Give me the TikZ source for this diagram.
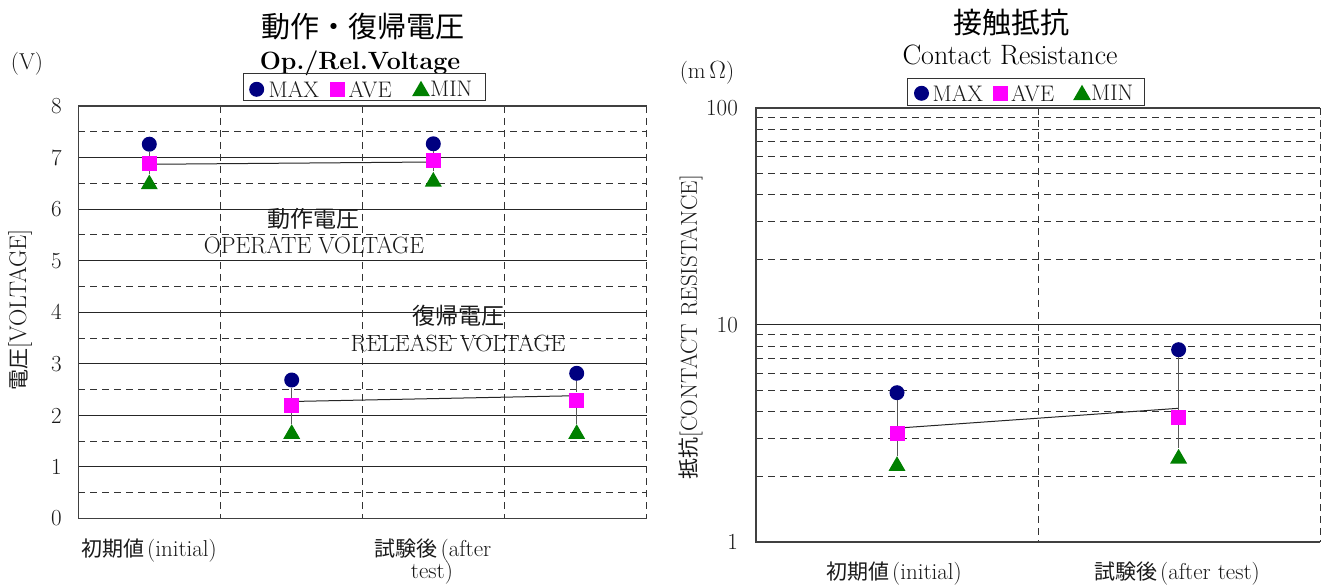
\documentclass[tikz,border=0pt]{standalone}
\usepackage{fontspec}
\newfontfamily\jp{Noto Sans CJK JP}
\usetikzlibrary{shapes.geometric}
\definecolor{mxc}{RGB}{0,0,128}
\definecolor{avc}{RGB}{255,0,255}
\definecolor{mnc}{RGB}{0,128,0}
\tikzset{
  mxmark/.style={circle, fill=mxc, minimum size=15pt, inner sep=0pt},
  avmark/.style={rectangle, fill=avc, minimum size=15pt, inner sep=0pt},
  mnmark/.style={regular polygon, regular polygon sides=3, fill=mnc, minimum size=19.6pt, inner sep=0pt},
  lgmn/.style={regular polygon, regular polygon sides=3, fill=mnc, minimum size=20.5pt, inner sep=0pt},
  solidgrid/.style={draw=black!85, line width=1pt},
  dashgrid/.style={draw=black!80, line width=1pt, dash pattern=on 7pt off 5pt},
  framegrid/.style={draw=black!75, line width=1.2pt},
  errbar/.style={draw=black!65, line width=1pt},
  avline/.style={draw=black!85, line width=1pt},
  txt/.style={inner sep=0pt, text=black!90, font=\fontsize{23}{26}\selectfont},
  tick/.style={inner sep=0pt, text=black!90, font=\fontsize{23}{26}\selectfont},
  legbox/.style={draw=black!80, line width=1pt, inner sep=0pt},
}
\newcommand{\jpf}[1]{{\jp\fontsize{21}{24}\selectfont #1}}
\begin{document}
\begin{tikzpicture}[x=1pt,y=-1pt]
\useasboundingbox (0,0) rectangle (1328,585);
\fill[white] (0,0) rectangle (1328,585);

% ================= LEFT CHART =================
\foreach \v in {1,...,7} \draw[solidgrid] (78.3,{518.5-51.55*\v}) -- (646.7,{518.5-51.55*\v});
\foreach \v in {0.5,1.5,2.5,3.5,4.5,5.5,6.5,7.5} \draw[dashgrid] (78.3,{518.5-51.55*\v}) -- (646.7,{518.5-51.55*\v});
\foreach \xx in {220.4,362.5,504.6,646.7} \draw[dashgrid] (\xx,106) -- (\xx,518.5);
\draw[framegrid] (646.7,106) -- (78.3,106) -- (78.3,518.5) -- (646.7,518.5);
\foreach \v in {0,...,8} \node[tick, anchor=east] (ly\v) at (62,{518.5-51.55*\v}) {\v};

% average lines
\coordinate (LopA) at (149.3,164.3);
\coordinate (LopB) at (433.3,162.0);
\coordinate (LrlA) at (291.7,401.5);
\coordinate (LrlB) at (576.7,395.7);
\draw[avline] (LopA) -- (LopB);
\draw[avline] (LrlA) -- (LrlB);

% markers
\node[mxmark] (L1x) at (149.3,144.2) {};
\node[avmark] (L1a) at (149.3,163.7) {};
\node[mnmark] (L1n) at (149.3,184.3) {};
\node[mxmark] (L2x) at (433.3,143.8) {};
\node[avmark] (L2a) at (433.3,160.8) {};
\node[mnmark] (L2n) at (433.3,181.7) {};
\node[mxmark] (L3x) at (291.7,380.0) {};
\node[avmark] (L3a) at (291.7,405.5) {};
\node[mnmark] (L3n) at (291.7,434.0) {};
\node[mxmark] (L4x) at (576.7,373.3) {};
\node[avmark] (L4a) at (576.7,400.0) {};
\node[mnmark] (L4n) at (576.7,434.0) {};
\foreach \k in {1,2,3,4} {
  \draw[errbar] (L\k x) -- (L\k a);
  \draw[errbar] (L\k a) -- (L\k n);
}

% texts
\node[inner sep=0pt, font=\jp\fontsize{29}{32}\selectfont] (tL1) at (363,26.5) {動作・復帰電圧};
\node[inner sep=0pt, anchor=base, font=\bfseries\fontsize{25}{28}\selectfont] (tL2) at (360,70) {Op./Rel.Voltage};
\node[txt, anchor=base] (uL) at (27,70) {(V)};
\node[txt, rotate=90, font=\fontsize{24}{26}\selectfont] (yL) at (20,310) {\jpf{電圧}[VOLTAGE]};
\node[inner sep=0pt, text=black!90, font=\jp\fontsize{23}{26}\selectfont] (opj) at (313.5,219) {動作電圧};
\node[inner sep=0pt, text=black!90, anchor=base, font=\fontsize{23.5}{26}\selectfont] (ope) at (314,253.3) {OPERATE VOLTAGE};
\node[inner sep=0pt, text=black!90, font=\jp\fontsize{23}{26}\selectfont] (rlj) at (458,316) {復帰電圧};
\node[inner sep=0pt, text=black!90, anchor=base, font=\fontsize{23.5}{26}\selectfont] (rle) at (458,351.7) {RELEASE VOLTAGE};
\node[txt, anchor=base] (xL1) at (149,556) {\jpf{初期値}\hspace{3pt}(initial)};
\node[txt, anchor=base] (xL2) at (433,556) {\jpf{試験後}\hspace{3pt}(after};
\node[txt, anchor=base] (xL3) at (432,578) {test)};

% legend left
\node[legbox, minimum width=242pt, minimum height=27pt] (lgL) at (364.2,87.4) {};
\node[mxmark] (lgLx) at (256.7,89.3) {};
\node[txt, anchor=west, font=\fontsize{22.5}{26}\selectfont] (lgLxt) at (268.5,89.3) {MAX};
\node[avmark] (lgLa) at (337.5,89.3) {};
\node[txt, anchor=west, font=\fontsize{22.5}{26}\selectfont] (lgLat) at (348.5,89.3) {AVE};
\node[lgmn] (lgLn) at (421,91) {};
\node[txt, anchor=west, font=\fontsize{22.5}{26}\selectfont] (lgLnt) at (430,89.3) {MIN};

% ================= RIGHT CHART =================
\foreach \v in {2,...,9} \draw[dashgrid] (756,{542-217*log10(\v)}) -- (1320,{542-217*log10(\v)});
\foreach \v in {20,30,...,90} \draw[dashgrid] (756,{542-217*log10(\v)}) -- (1320,{542-217*log10(\v)});
\draw[solidgrid] (756,325) -- (1320,325);
\foreach \xx in {1038,1320} \draw[dashgrid] (\xx,108) -- (\xx,542);
\draw[framegrid] (1320,108) -- (756,108) -- (756,542) -- (1320,542);
\node[tick, anchor=east] (ry2) at (738,108) {100};
\node[tick, anchor=east] (ry1) at (738,325) {10};
\node[tick, anchor=east] (ry0) at (738,542) {1};

\coordinate (RavA) at (899,428);
\coordinate (RavB) at (1178.6,408.3);
\draw[avline] (RavA) -- (RavB);

\node[mxmark] (R1x) at (897,392.7) {};
\node[avmark] (R1a) at (897,433.7) {};
\node[mnmark] (R1n) at (897,466.0) {};
\node[mxmark] (R2x) at (1178.6,349.7) {};
\node[avmark] (R2a) at (1178.6,417.7) {};
\node[mnmark] (R2n) at (1178.6,458.6) {};
\foreach \k in {1,2} {
  \draw[errbar] (R\k x) -- (R\k a);
  \draw[errbar] (R\k a) -- (R\k n);
}

\node[inner sep=0pt, font=\jp\fontsize{29}{32}\selectfont] (tR1) at (1011,22.5) {接触抵抗};
\node[inner sep=0pt, anchor=base, font=\fontsize{28}{30}\selectfont] (tR2) at (1010,65) {Contact Resistance};
\node[txt, anchor=base] (uR) at (707,78.3) {(m\,$\Omega$)};
\node[txt, rotate=90] (yR) at (691,327) {\jpf{抵抗}[CONTACT RESISTANCE]};
\node[txt, anchor=base] (xR1) at (894,579) {\jpf{初期値}\hspace{3pt}(initial)};
\node[txt, anchor=base] (xR2) at (1177,579) {\jpf{試験後}\hspace{3pt}(after test)};

% legend right
\node[legbox, minimum width=237pt, minimum height=27pt] (lgR) at (1025.8,91.6) {};
\node[mxmark] (lgRx) at (921.5,93.3) {};
\node[txt, anchor=west, font=\fontsize{22.5}{26}\selectfont] (lgRxt) at (932.5,93.3) {MAX};
\node[avmark] (lgRa) at (1000,93.3) {};
\node[txt, anchor=west, font=\fontsize{22.5}{26}\selectfont] (lgRat) at (1011,93.3) {AVE};
\node[lgmn] (lgRn) at (1082,95) {};
\node[txt, anchor=west, font=\fontsize{22.5}{26}\selectfont] (lgRnt) at (1091,93.3) {MIN};
\end{tikzpicture}
\end{document}
